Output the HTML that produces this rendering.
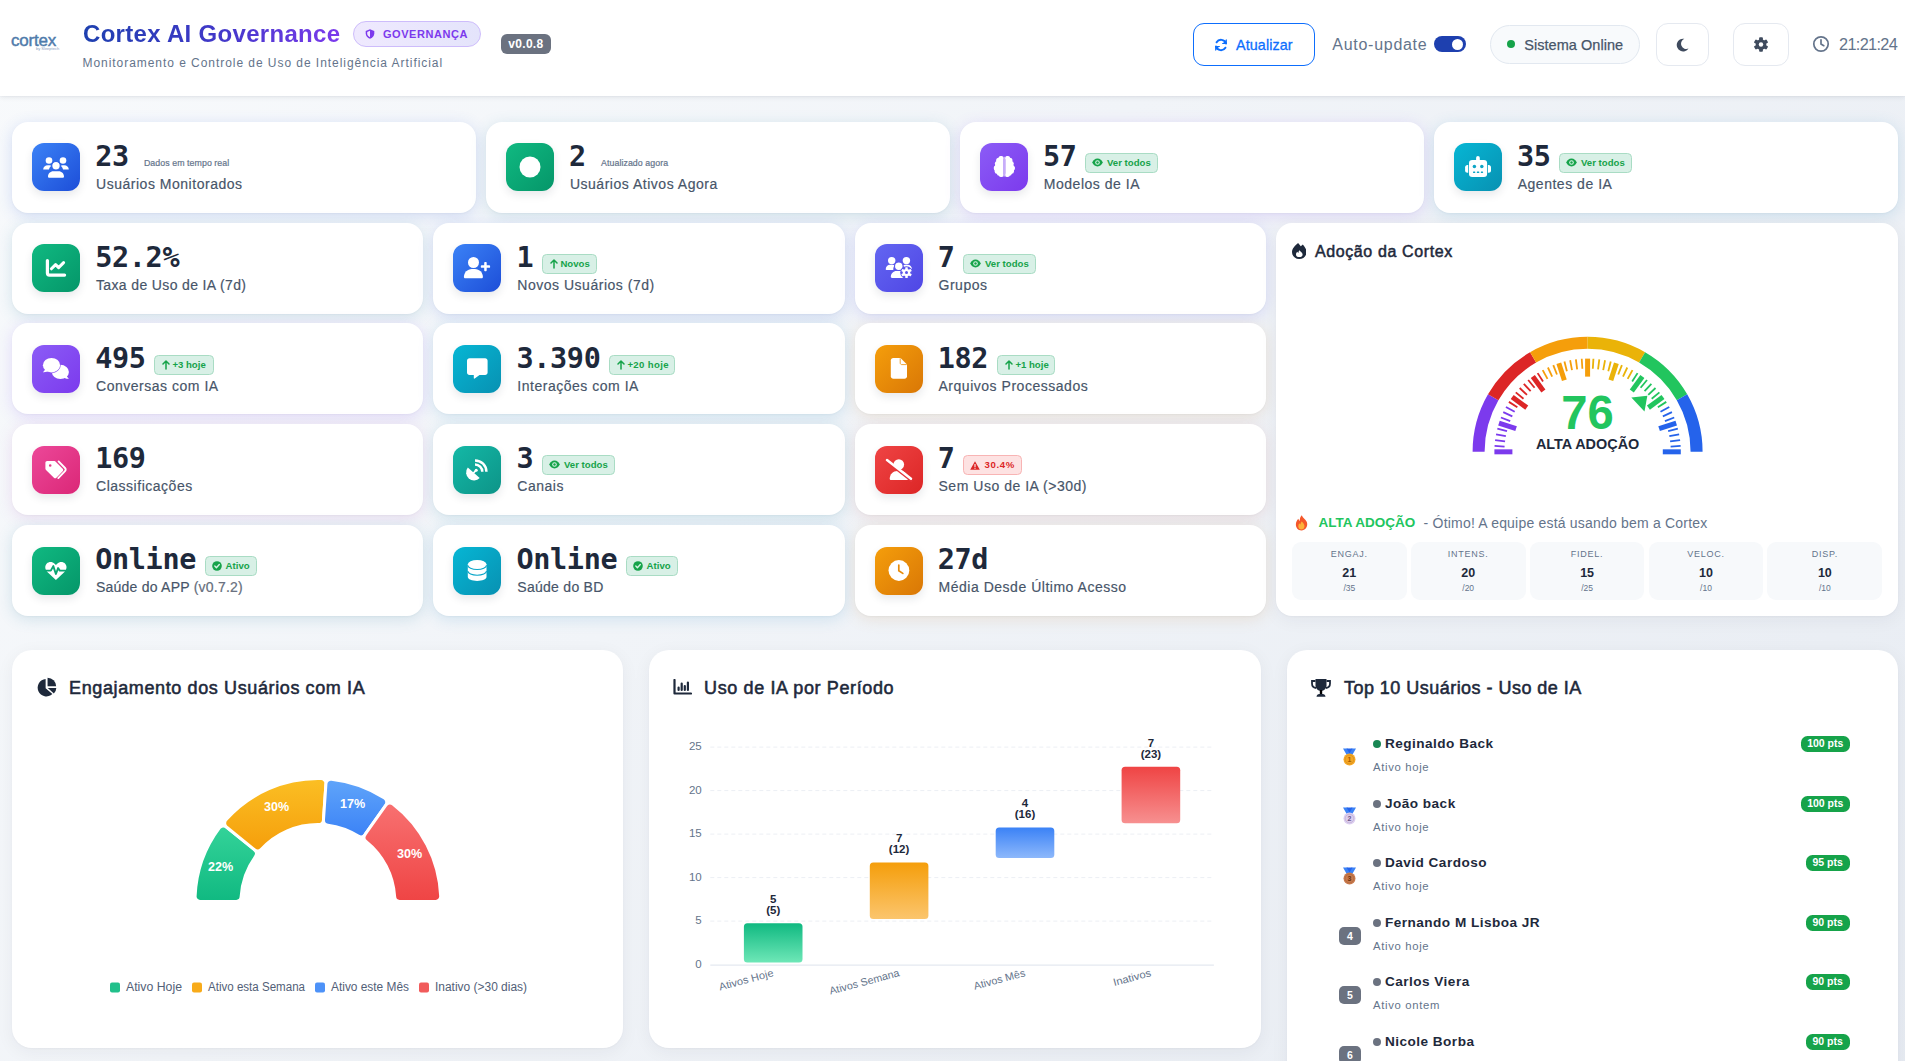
<!DOCTYPE html>
<html lang="pt-BR"><head><meta charset="utf-8"><title>Cortex AI Governance</title>
<style>
*{box-sizing:border-box;margin:0;padding:0}
html,body{width:1905px;height:1061px;overflow:hidden}
body{font-family:"Liberation Sans",sans-serif;color:#1e293b;background:linear-gradient(135deg,#f8fafc 0%,#e3e8f0 100%) no-repeat;background-size:1905px 1800px;position:relative}
.abs{position:absolute}
.mono{font-family:"DejaVu Sans Mono","Liberation Mono",monospace;font-weight:bold}
#hdr{position:absolute;left:0;top:0;width:1905px;height:96px;background:#fff;box-shadow:0 1px 5px rgba(30,41,59,.10),0 0 1px rgba(30,41,59,.10)}
.t{position:absolute;white-space:nowrap;line-height:1}
.card{position:absolute;background:#fff;border-radius:16px;box-shadow:0 4px 14px rgba(99,102,170,.13),0 1px 3px rgba(30,41,59,.05)}
.ico{position:absolute;left:20px;width:48px;height:48px;border-radius:12px;box-shadow:0 4px 8px rgba(30,41,59,.10)}
.ico svg{position:absolute;left:0;top:0;width:48px;height:48px}
.num{position:absolute;left:84px;font-size:28.5px;line-height:1;color:#1e293b;white-space:nowrap;letter-spacing:-.36px}
.lbl{position:absolute;left:84px;font-size:14px;line-height:1;color:#475569;white-space:nowrap;letter-spacing:.52px;-webkit-text-stroke:.18px #475569}
.bdg{position:absolute;height:20px;border-radius:4.5px;font-size:9.6px;font-weight:bold;line-height:18px;white-space:nowrap;border:1px solid #a9dcc4;background:#d8f0e6;color:#16a34a;letter-spacing:0}
.bdg.red{border-color:#f8b4b4;background:#fde2e2;color:#dc2626}

.panel{position:absolute;background:#fff;border-radius:20px;box-shadow:0 4px 18px rgba(30,41,59,.055),0 1px 2px rgba(30,41,59,.03)}
.ptitle{position:absolute;font-size:18px;font-weight:normal;-webkit-text-stroke:.55px #1e293b;color:#1e293b;white-space:nowrap;line-height:1;letter-spacing:.62px}
</style></head>
<body>

<div id="hdr">
  <div class="t" id="logo" style="left:11px;top:31.500px;font-size:17px;color:#4f7bab;letter-spacing:-.2px;-webkit-text-stroke:.45px #4f7bab">cortex</div>
  <div class="t" style="left:36px;top:47px;font-size:4px;color:#8aa0c0">by Sleeptech</div>
  <div class="t" id="title" style="left:82.500px;top:20.800px;font-size:23.300px;letter-spacing:.3px;transform:scaleX(1.03);transform-origin:0 0;font-weight:bold;background:linear-gradient(90deg,#1e40af 0%,#4338ca 55%,#7c3aed 100%);-webkit-background-clip:text;background-clip:text;color:transparent;line-height:26px">Cortex AI Governance</div>
  <div class="abs" style="left:353px;top:21px;width:128px;height:26px;border-radius:13px;background:linear-gradient(90deg,#efe9fe,#e4e4fb);border:1px solid #cdbcfb"></div>
  <svg class="abs" style="left:365px;top:29px" width="10" height="10" viewBox="0 0 10 10"><path d="M5 .3 9.3 2v2.6C9.3 7 7.4 9 5 9.8 2.6 9 .7 7 .7 4.600V2z" fill="#7c3aed"/><path d="M5 1.8v6.500C3.400 7.600 2.200 6.200 2.200 4.600V2.900z" fill="#efe9fe"/></svg>
  <div class="t" id="gov" style="left:383px;top:28.500px;font-size:11px;font-weight:bold;color:#7c3aed;letter-spacing:.55px">GOVERNANÇA</div>
  <div class="abs" style="left:501px;top:34px;width:50px;height:20px;border-radius:6px;background:#6b7280"></div>
  <div class="t" id="ver" style="left:508.300px;top:38.300px;font-size:12px;font-weight:bold;color:#fff;letter-spacing:.3px">v0.0.8</div>
  <div class="t" id="sub" style="left:82.500px;top:56.500px;font-size:12px;color:#64748b;letter-spacing:.95px">Monitoramento e Controle de Uso de Inteligência Artificial</div>

  <div class="abs" style="left:1193px;top:23px;width:122px;height:43px;border-radius:11px;border:1px solid #0d6efd;background:#fff"></div>
  <svg class="abs" style="left:1214px;top:38px" width="14" height="14" viewBox="0 0 14 14" fill="none" stroke="#0d6efd" stroke-width="2" stroke-linecap="round" stroke-linejoin="round"><path d="M12 5.500A5.200 5.200 0 0 0 2.600 4.300"/><path d="M2 8.500A5.200 5.200 0 0 0 11.400 9.700"/><path d="M12.300 1.800v3.700H8.600" fill="#0d6efd" stroke-width="1"/><path d="M1.700 12.200V8.500h3.700" fill="#0d6efd" stroke-width="1"/></svg>
  <div class="t" id="atu" style="left:1236px;top:37.500px;font-size:14.300px;color:#0d6efd;letter-spacing:.12px;-webkit-text-stroke:.3px #0d6efd">Atualizar</div>
  <div class="t" id="auto" style="left:1332.300px;top:36.500px;font-size:16px;color:#64748b;letter-spacing:.72px">Auto-update</div>
  <div class="abs" style="left:1434px;top:36px;width:32px;height:16px;border-radius:8px;background:#1e40af"></div>
  <div class="abs" style="left:1452px;top:38.500px;width:11px;height:11px;border-radius:6px;background:#fff"></div>
  <div class="abs" style="left:1490px;top:25px;width:150px;height:39px;border-radius:20px;border:1px solid #e2e8f0;background:#f8fafc"></div>
  <div class="abs" style="left:1507px;top:40px;width:8px;height:8px;border-radius:4px;background:#16a34a"></div>
  <div class="t" id="sis" style="left:1524.200px;top:37.800px;font-size:14.500px;color:#475569;letter-spacing:.05px;-webkit-text-stroke:.25px #475569">Sistema Online</div>
  <div class="abs" style="left:1656px;top:23px;width:53px;height:43px;border-radius:12px;border:1px solid #e5e9f0;background:#fff"></div>
  <svg class="abs" style="left:1676px;top:38px" width="13" height="14" viewBox="0 0 13 14"><path d="M8.300.8A6.400 6.400 0 1 0 12.500 10.600 5.100 5.100 0 0 1 8.300.8z" fill="#3f4b5e"/></svg>
  <div class="abs" style="left:1733px;top:23px;width:56px;height:43px;border-radius:12px;border:1px solid #e5e9f0;background:#fff"></div>
  <svg class="abs" style="left:1754px;top:37px" width="14" height="15" viewBox="-7 -7.500 14 15"><g fill="#3f4b5e"><circle r="5.300"/><g id="tt"><rect x="-1.900" y="-7.200" width="3.800" height="14.400" rx=".9"/></g><use href="#tt" transform="rotate(60)"/><use href="#tt" transform="rotate(120)"/></g><circle r="2.200" fill="#fff"/></svg>
  <svg class="abs" style="left:1812px;top:35px" width="18" height="18" viewBox="0 0 18 18" fill="none" stroke="#64748b" stroke-width="1.700" stroke-linecap="round"><circle cx="9" cy="9" r="7.200"/><path d="M9 4.800V9l2.800 1.700"/></svg>
  <div class="t" id="clk" style="left:1839px;top:36.300px;font-size:16.300px;color:#64748b;letter-spacing:-.65px">21:21:24</div>
</div>
<div class="card" style="left:12px;top:122px;width:464px;height:91px;box-shadow:0 3px 15px rgba(59,100,220,.19),0 1px 2px rgba(30,41,59,.04)">
<div class="ico" style="left:20px;top:21px;background:linear-gradient(135deg,#3b82f6,#1d4ed8)"><svg viewBox="0 0 48 48"><g fill="#fff"><circle cx="17" cy="17.500" r="3.300"/><circle cx="31" cy="17.500" r="3.300"/><path d="M11.200 26.500c0-2.600 2-4.200 4.600-4.200h1.600c.8 0 1.500.2 2.100.5-1.500 1-2.300 2.400-2.500 3.700z"/><path d="M36.800 26.500c0-2.600-2-4.200-4.600-4.200h-1.600c-.8 0-1.500.2-2.100.5 1.500 1 2.300 2.400 2.500 3.700z"/><circle cx="24" cy="22.800" r="4.300" stroke="#2f62e6" stroke-width="1.200"/><path d="M16 33.500c0-3 2.400-5.300 5.300-5.300h5.400c2.900 0 5.300 2.300 5.300 5.300 0 .8-.6 1.300-1.300 1.300H17.300c-.7 0-1.300-.5-1.300-1.300z"/></g></svg></div>
<div class="num mono" id="num0" style="left:83.20px;top:21.43px">23</div>
<div class="lbl" id="lbl0" style="left:84.00px;top:55.43px">Usuários Monitorados</div>
<div class="t" id="sm0" style="left:131.9px;top:36.7px;font-size:8.800px;color:#64748b;letter-spacing:.07px;-webkit-text-stroke:.2px #64748b">Dados em tempo real</div>
</div>
<div class="card" style="left:486px;top:122px;width:464px;height:91px;box-shadow:0 3px 15px rgba(60,140,170,.19),0 1px 2px rgba(30,41,59,.04)">
<div class="ico" style="left:20px;top:21px;background:linear-gradient(135deg,#10b981,#059669)"><svg viewBox="0 0 48 48"><circle cx="24" cy="24" r="10.500" fill="#fff"/></svg></div>
<div class="num mono" id="num1" style="left:83.10px;top:21.43px">2</div>
<div class="lbl" id="lbl1" style="left:83.90px;top:55.43px">Usuários Ativos Agora</div>
<div class="t" id="sm1" style="left:115.0px;top:36.7px;font-size:8.800px;color:#64748b;letter-spacing:.07px;-webkit-text-stroke:.2px #64748b">Atualizado agora</div>
</div>
<div class="card" style="left:960px;top:122px;width:464px;height:91px;box-shadow:0 3px 15px rgba(139,92,246,.19),0 1px 2px rgba(30,41,59,.04)">
<div class="ico" style="left:20px;top:21px;background:linear-gradient(135deg,#8b5cf6,#7c3aed)"><svg viewBox="0 0 48 48"><g fill="#fff" transform="translate(.55 0)"><path d="M22.60 13.70L20.60 13.00L18.10 14.80L16.70 17.60L15.00 19.90L14.70 22.10L13.30 25.00L14.10 27.80L15.50 29.50L16.70 31.20L18.70 32.30L20.60 34.00L22.60 33.50z"/><circle cx="20.30" cy="15.3" r="2.3"/><circle cx="18.20" cy="17.4" r="2.6"/><circle cx="16.60" cy="20.6" r="2.3"/><circle cx="15.70" cy="24.9" r="2.5"/><circle cx="16.50" cy="28.4" r="2.4"/><circle cx="18.60" cy="30.6" r="2.2"/><circle cx="20.40" cy="31.8" r="2.2"/><path d="M24.90 13.70L26.90 13.00L29.40 14.80L30.80 17.60L32.50 19.90L32.80 22.10L34.20 25.00L33.40 27.80L32.00 29.50L30.80 31.20L28.80 32.30L26.90 34.00L24.90 33.50z"/><circle cx="27.20" cy="15.3" r="2.3"/><circle cx="29.30" cy="17.4" r="2.6"/><circle cx="30.90" cy="20.6" r="2.3"/><circle cx="31.80" cy="24.9" r="2.5"/><circle cx="31.00" cy="28.4" r="2.4"/><circle cx="28.90" cy="30.6" r="2.2"/><circle cx="27.10" cy="31.8" r="2.2"/><rect x="22.6" y="13.8" width="2.3" height="19.7" opacity=".55"/></g></svg></div>
<div class="num mono" id="num2" style="left:83.00px;top:21.43px">57</div>
<div class="lbl" id="lbl2" style="left:83.80px;top:55.43px">Modelos de IA</div>
<div class="bdg " style="left:125.0px;top:31px;width:73px"><svg style="position:absolute;left:6px;top:4.4px" width="11" height="9" viewBox="0 0 11 9"><path d="M5.500.6C3 .6 1.100 2.300.3 4.500 1.100 6.700 3 8.400 5.500 8.400S9.900 6.700 10.700 4.500C9.900 2.300 8 .6 5.500.6z" fill="#16a34a"/><circle cx="5.500" cy="4.500" r="2.300" fill="#d5f2e4"/><circle cx="5.500" cy="4.500" r="1.200" fill="#16a34a"/></svg><span id="bt0" style="position:absolute;left:21px;top:0">Ver todos</span></div>
</div>
<div class="card" style="left:1434px;top:122px;width:464px;height:91px;box-shadow:0 3px 15px rgba(56,150,200,.19),0 1px 2px rgba(30,41,59,.04)">
<div class="ico" style="left:20px;top:21px;background:linear-gradient(135deg,#06b6d4,#0891b2)"><svg viewBox="0 0 48 48"><g fill="#fff"><rect x="22.1" y="13.1" width="3.7" height="6" rx="1.85"/><rect x="15" y="17.1" width="18.1" height="16.9" rx="3.2"/><path d="M14.200 22v7.800h-.8c-1.300 0-2.300-1-2.300-2.300v-3.200c0-1.300 1-2.300 2.300-2.300z"/><path d="M33.900 22v7.800h.8c1.300 0 2.300-1 2.300-2.300v-3.200c0-1.300-1-2.300-2.300-2.300z"/></g><g fill="#0ea5c6"><circle cx="20.400" cy="23.400" r="1.750"/><circle cx="27.800" cy="23.400" r="1.750"/><rect x="19" y="28.600" width="2.300" height="1.400" rx=".4"/><rect x="22.800" y="28.600" width="2.500" height="1.400" rx=".4"/><rect x="26.800" y="28.600" width="2.300" height="1.400" rx=".4"/></g></svg></div>
<div class="num mono" id="num3" style="left:82.90px;top:21.43px">35</div>
<div class="lbl" id="lbl3" style="left:83.70px;top:55.43px">Agentes de IA</div>
<div class="bdg " style="left:125.0px;top:31px;width:73px"><svg style="position:absolute;left:6px;top:4.4px" width="11" height="9" viewBox="0 0 11 9"><path d="M5.500.6C3 .6 1.100 2.300.3 4.500 1.100 6.700 3 8.400 5.500 8.400S9.900 6.700 10.700 4.500C9.900 2.300 8 .6 5.500.6z" fill="#16a34a"/><circle cx="5.500" cy="4.500" r="2.300" fill="#d5f2e4"/><circle cx="5.500" cy="4.500" r="1.200" fill="#16a34a"/></svg><span id="bt1" style="position:absolute;left:21px;top:0">Ver todos</span></div>
</div>
<div class="card" style="left:12px;top:223px;width:411px;height:91px;box-shadow:0 3px 15px rgba(60,140,170,.19),0 1px 2px rgba(30,41,59,.04)">
<div class="ico" style="left:20px;top:21px;background:linear-gradient(135deg,#10b981,#059669)"><svg viewBox="0 0 48 48"><g fill="none" stroke="#fff" stroke-width="3.200" stroke-linecap="round" stroke-linejoin="round"><path d="M15.400 16.500v12.600c0 1.200.8 2 2 2H32.600"/><path d="M19.400 24.800l4.200-4.200 3 3 5-5" stroke-width="3"/></g></svg></div>
<div class="num mono" id="num4" style="left:83.20px;top:21.10px">52.2%</div>
<div class="lbl" id="lbl4" style="left:84.00px;top:55.10px;letter-spacing:0.36px">Taxa de Uso de IA (7d)</div>
</div>
<div class="card" style="left:433px;top:223px;width:412px;height:91px;box-shadow:0 3px 15px rgba(59,100,220,.19),0 1px 2px rgba(30,41,59,.04)">
<div class="ico" style="left:20px;top:21px;background:linear-gradient(135deg,#3b82f6,#1d4ed8)"><svg viewBox="0 0 48 48"><g fill="#fff"><circle cx="20.500" cy="18.500" r="5.500"/><path d="M10.900 33c0-4.500 3.500-8.100 8-8.100h3c4.500 0 8 3.600 8 8.100 0 .7-.6 1.300-1.300 1.300H12.200c-.7 0-1.300-.6-1.300-1.300z"/><rect x="31.200" y="17.900" width="2.500" height="9.300" rx=".9"/><rect x="27.800" y="21.300" width="9.300" height="2.500" rx=".9"/></g></svg></div>
<div class="num mono" id="num5" style="left:83.47px;top:21.10px">1</div>
<div class="lbl" id="lbl5" style="left:84.27px;top:55.10px">Novos Usuários (7d)</div>
<div class="bdg " style="left:109.0px;top:31px;width:55px"><svg style="position:absolute;left:6.6px;top:4px" width="8" height="10" viewBox="0 0 8 10" fill="none" stroke="#16a34a" stroke-width="1.500" stroke-linecap="round" stroke-linejoin="round"><path d="M4 9V1.200M1 4l3-3 3 3"/></svg><span id="bt2" style="position:absolute;left:17.4px;top:0">Novos</span></div>
</div>
<div class="card" style="left:855px;top:223px;width:411px;height:91px;box-shadow:0 3px 15px rgba(99,102,241,.19),0 1px 2px rgba(30,41,59,.04)">
<div class="ico" style="left:20px;top:21px;background:linear-gradient(135deg,#6366f1,#4f46e5)"><svg viewBox="0 0 48 48"><g fill="#fff"><circle cx="16.700" cy="16.600" r="3.700"/><circle cx="31.400" cy="16.600" r="3.700"/><path d="M10.700 25.200c0-2.500 2-4.400 4.500-4.400h2.500c.7 0 1.400.2 2 .5-1 1.200-1.500 2.700-1.400 4.700h-6.800c-.5 0-.8-.4-.8-.8z"/><path d="M37 25.200c0-2.500-2-4.400-4.500-4.400H30c-.7 0-1.400.2-2 .5.900 1 1.400 2.200 1.500 3.700h7.100c.3 0 .4-.1.400.2z"/><circle cx="23.800" cy="22.300" r="4.300" stroke="#5a55ea" stroke-width="1.100"/><path d="M15.800 32.800c0-3.200 2.600-5.700 5.700-5.700h4.500c1.200 0 2.200.3 3.100.9v5.900H17c-.7 0-1.200-.5-1.200-1.100z"/><g transform="translate(31.500 28.600)"><circle r="6.300" fill="#5a55ea"/><circle r="3.700"/><g id="cg"><rect x="-1.250" y="-5.400" width="2.500" height="10.800" rx=".5"/></g><use href="#cg" transform="rotate(60)"/><use href="#cg" transform="rotate(120)"/><circle r="1.500" fill="#5a55ea"/></g></g></svg></div>
<div class="num mono" id="num6" style="left:82.73px;top:21.10px">7</div>
<div class="lbl" id="lbl6" style="left:83.53px;top:55.10px">Grupos</div>
<div class="bdg " style="left:108.0px;top:31px;width:73px"><svg style="position:absolute;left:6px;top:4.4px" width="11" height="9" viewBox="0 0 11 9"><path d="M5.500.6C3 .6 1.100 2.300.3 4.500 1.100 6.700 3 8.400 5.500 8.400S9.900 6.700 10.700 4.500C9.900 2.300 8 .6 5.500.6z" fill="#16a34a"/><circle cx="5.500" cy="4.500" r="2.300" fill="#d5f2e4"/><circle cx="5.500" cy="4.500" r="1.200" fill="#16a34a"/></svg><span id="bt3" style="position:absolute;left:21px;top:0">Ver todos</span></div>
</div>
<div class="card" style="left:12px;top:323px;width:411px;height:91px;box-shadow:0 3px 15px rgba(139,92,246,.19),0 1px 2px rgba(30,41,59,.04)">
<div class="ico" style="left:20px;top:22px;background:linear-gradient(135deg,#8b5cf6,#7c3aed)"><svg viewBox="0 0 48 48"><g fill="#fff"><ellipse cx="28.400" cy="26.900" rx="8.500" ry="7.100"/><path d="M30.500 32.500c1.800.3 4 1.600 6.400 1.300-1.400-1.200-2.300-2.700-2.500-4.800z"/><g stroke="#8950f2" stroke-width="1.300" paint-order="stroke"><ellipse cx="19.500" cy="20.200" rx="8.600" ry="7.200"/></g><path d="M17.500 26c-1.800.3-4.200 1.500-6.600 1.200 1.400-1.200 2.300-2.700 2.500-4.800z"/></g></svg></div>
<div class="num mono" id="num7" style="left:83.20px;top:21.77px">495</div>
<div class="lbl" id="lbl7" style="left:84.00px;top:55.77px">Conversas com IA</div>
<div class="bdg " style="left:142.0px;top:32px;width:60px"><svg style="position:absolute;left:6.6px;top:4px" width="8" height="10" viewBox="0 0 8 10" fill="none" stroke="#16a34a" stroke-width="1.500" stroke-linecap="round" stroke-linejoin="round"><path d="M4 9V1.200M1 4l3-3 3 3"/></svg><span id="bt4" style="position:absolute;left:17.4px;top:0">+3 hoje</span></div>
</div>
<div class="card" style="left:433px;top:323px;width:412px;height:91px;box-shadow:0 3px 15px rgba(56,150,200,.19),0 1px 2px rgba(30,41,59,.04)">
<div class="ico" style="left:20px;top:22px;background:linear-gradient(135deg,#06b6d4,#0891b2)"><svg viewBox="0 0 48 48"><path d="M16.500 13.300h15.600c1.400 0 2.500 1.100 2.500 2.500v11.700c0 1.400-1.100 2.500-2.500 2.500h-5.600l-4.800 3.600c-.4.300-.9 0-.9-.4V30h-4.300c-1.400 0-2.500-1.100-2.500-2.500V15.800c0-1.400 1.100-2.500 2.500-2.500z" fill="#fff"/></svg></div>
<div class="num mono" id="num8" style="left:83.47px;top:21.77px">3.390</div>
<div class="lbl" id="lbl8" style="left:84.27px;top:55.77px">Interações com IA</div>
<div class="bdg " style="left:176.0px;top:32px;width:66px"><svg style="position:absolute;left:6.6px;top:4px" width="8" height="10" viewBox="0 0 8 10" fill="none" stroke="#16a34a" stroke-width="1.500" stroke-linecap="round" stroke-linejoin="round"><path d="M4 9V1.200M1 4l3-3 3 3"/></svg><span id="bt5" style="position:absolute;left:17.4px;top:0;letter-spacing:.35px">+20 hoje</span></div>
</div>
<div class="card" style="left:855px;top:323px;width:411px;height:91px;box-shadow:0 3px 15px rgba(200,150,90,.19),0 1px 2px rgba(30,41,59,.04)">
<div class="ico" style="left:20px;top:22px;background:linear-gradient(135deg,#f59e0b,#d97706)"><svg viewBox="0 0 48 48"><path d="M18.300 13.100h7.200l6.500 6.300v11.900c0 1.400-1.100 2.500-2.500 2.500H18.300c-1.400 0-2.500-1.100-2.500-2.500V15.600c0-1.400 1.100-2.500 2.500-2.500z" fill="#fff"/><path d="M25.200 13.300v4.700c0 .9.700 1.600 1.600 1.600h4.900" fill="none" stroke="#ee9a1e" stroke-width=".9"/></svg></div>
<div class="num mono" id="num9" style="left:82.73px;top:21.77px">182</div>
<div class="lbl" id="lbl9" style="left:83.53px;top:55.77px">Arquivos Processados</div>
<div class="bdg " style="left:142.0px;top:32px;width:58px"><svg style="position:absolute;left:6.6px;top:4px" width="8" height="10" viewBox="0 0 8 10" fill="none" stroke="#16a34a" stroke-width="1.500" stroke-linecap="round" stroke-linejoin="round"><path d="M4 9V1.200M1 4l3-3 3 3"/></svg><span id="bt6" style="position:absolute;left:17.4px;top:0">+1 hoje</span></div>
</div>
<div class="card" style="left:12px;top:424px;width:411px;height:91px;box-shadow:0 3px 15px rgba(190,110,200,.19),0 1px 2px rgba(30,41,59,.04)">
<div class="ico" style="left:20px;top:22px;background:linear-gradient(135deg,#ec4899,#db2777)"><svg viewBox="0 0 48 48"><g transform="translate(0 .6)"><g fill="#fff"><path d="M13.400 16.200c0-.9.800-1.700 1.700-1.700h7.300c.5 0 1 .2 1.300.6l7 7.100c.7.700.7 1.800 0 2.500l-6.300 6.500c-.7.700-1.800.7-2.500 0l-7.900-7.900c-.4-.4-.6-.8-.6-1.300zM18.200 20.200a1.300 1.300 0 1 0 0-2.600 1.300 1.300 0 0 0 0 2.600z" fill-rule="evenodd"/></g><path d="M26.600 14.800l6.400 6.600c.9.900.9 2.200 0 3.100l-6.700 7" fill="none" stroke="#fff" stroke-width="1.900" stroke-linecap="round" stroke-linejoin="round"/></g></svg></div>
<div class="num mono" id="num10" style="left:83.20px;top:21.44px">169</div>
<div class="lbl" id="lbl10" style="left:84.00px;top:55.44px">Classificações</div>
</div>
<div class="card" style="left:433px;top:424px;width:412px;height:91px;box-shadow:0 3px 15px rgba(60,150,180,.19),0 1px 2px rgba(30,41,59,.04)">
<div class="ico" style="left:20px;top:22px;background:linear-gradient(135deg,#14b8a6,#0d9488)"><svg viewBox="0 0 48 48"><g fill="#fff"><path d="M14.800 21.600A7.950 7.950 0 0 0 26.700 32.100z"/><circle cx="23.200" cy="24.200" r="1.500"/></g><path d="M20.500 27l2.700-2.800" stroke="#fff" stroke-width="1.800" stroke-linecap="round"/><g fill="none" stroke="#fff" stroke-width="2.500"><path d="M22 18.500a7.300 7.300 0 0 1 7.300 7.300"/><path d="M22 14.400a11.400 11.400 0 0 1 11.400 11.400"/></g></svg></div>
<div class="num mono" id="num11" style="left:83.47px;top:21.44px">3</div>
<div class="lbl" id="lbl11" style="left:84.27px;top:55.44px">Canais</div>
<div class="bdg " style="left:109.0px;top:31px;width:73px"><svg style="position:absolute;left:6px;top:4.4px" width="11" height="9" viewBox="0 0 11 9"><path d="M5.500.6C3 .6 1.100 2.300.3 4.500 1.100 6.700 3 8.400 5.500 8.400S9.900 6.700 10.700 4.500C9.900 2.300 8 .6 5.500.6z" fill="#16a34a"/><circle cx="5.500" cy="4.500" r="2.300" fill="#d5f2e4"/><circle cx="5.500" cy="4.500" r="1.200" fill="#16a34a"/></svg><span id="bt7" style="position:absolute;left:21px;top:0">Ver todos</span></div>
</div>
<div class="card" style="left:855px;top:424px;width:411px;height:91px;box-shadow:0 3px 15px rgba(200,120,120,.19),0 1px 2px rgba(30,41,59,.04)">
<div class="ico" style="left:20px;top:22px;background:linear-gradient(135deg,#ef4444,#dc2626)"><svg viewBox="0 0 48 48"><g fill="#fff"><circle cx="23.800" cy="18.600" r="5.300"/><path d="M14.700 32.800c0-4.300 3.400-7.700 7.700-7.700h3c4.300 0 7.700 3.400 7.700 7.700 0 .7-.6 1.300-1.300 1.300H16c-.7 0-1.300-.6-1.300-1.300z"/></g><path d="M12.400 15.900l23.800 18.600" stroke="#e5353a" stroke-width="2.600" stroke-linecap="round"/><path d="M12 14.100l24 18.700" stroke="#fff" stroke-width="2.500" stroke-linecap="round"/></svg></div>
<div class="num mono" id="num12" style="left:82.73px;top:21.44px">7</div>
<div class="lbl" id="lbl12" style="left:83.53px;top:55.44px">Sem Uso de IA (&gt;30d)</div>
<div class="bdg red" style="left:108.0px;top:31px;width:59px"><svg style="position:absolute;left:6.4px;top:4.6px" width="10" height="9" viewBox="0 0 10 9"><path d="M5 .3 9.800 8.700H.2z" fill="#dc2626"/><rect x="4.400" y="3" width="1.200" height="3" fill="#fde0e0"/><rect x="4.400" y="6.700" width="1.200" height="1.100" fill="#fde0e0"/></svg><span id="bt8" style="position:absolute;left:20.4px;top:0;letter-spacing:.7px">30.4%</span></div>
</div>
<div class="card" style="left:12px;top:525px;width:411px;height:91px;box-shadow:0 3px 15px rgba(60,140,170,.19),0 1px 2px rgba(30,41,59,.04)">
<div class="ico" style="left:20px;top:22px;background:linear-gradient(135deg,#10b981,#059669)"><svg viewBox="0 0 48 48"><path d="M23.900 33l-8.300-7.800c-2.900-2.700-3-6.400-.8-8.600 2.200-2.200 5.600-2 7.800.2l1.300 1.300 1.300-1.300c2.200-2.200 5.600-2.400 7.800-.2 2.200 2.200 2.100 5.900-.8 8.600z" fill="#fff"/><path d="M12.500 23.600h6.300l2.500-4.500 2.600 7.900 2.200-5.900 1.700 2.500h7.500" fill="none" stroke="#0aa673" stroke-width="1.900" stroke-linejoin="round"/></svg></div>
<div class="num mono" id="num13" style="left:83.20px;top:21.11px">Online</div>
<div class="lbl" id="lbl13" style="left:84.00px;top:55.11px;letter-spacing:0.225px">Saúde do APP <span style="color:#6b7280">(v0.7.2)</span></div>
<div class="bdg " style="left:193.0px;top:31px;width:52px"><svg style="position:absolute;left:5.6px;top:4px" width="10" height="10" viewBox="0 0 10 10"><circle cx="5" cy="5" r="4.800" fill="#16a34a"/><path d="M2.800 5.100l1.600 1.600 2.900-3.100" fill="none" stroke="#d5f2e4" stroke-width="1.400" stroke-linecap="round" stroke-linejoin="round"/></svg><span id="bt9" style="position:absolute;left:19.6px;top:0">Ativo</span></div>
</div>
<div class="card" style="left:433px;top:525px;width:412px;height:91px;box-shadow:0 3px 15px rgba(56,150,200,.19),0 1px 2px rgba(30,41,59,.04)">
<div class="ico" style="left:20px;top:22px;background:linear-gradient(135deg,#06b6d4,#0891b2)"><svg viewBox="0 0 48 48"><g fill="#fff"><path d="M14.800 17.500h18.700v12.600c0 2.100-4.200 3.800-9.350 3.800s-9.350-1.700-9.350-3.800z"/><ellipse cx="24.150" cy="17.400" rx="9.350" ry="4.300"/></g><g fill="none" stroke="#08a5c8" stroke-width="1.100"><path d="M14.800 18.200c0 2.400 4.200 4.300 9.350 4.300s9.350-1.900 9.350-4.300"/><path d="M14.800 24.100c0 2.300 4.200 4.100 9.350 4.100s9.350-1.800 9.350-4.100"/></g></svg></div>
<div class="num mono" id="num14" style="left:83.47px;top:21.11px">Online</div>
<div class="lbl" id="lbl14" style="left:84.27px;top:55.11px;letter-spacing:0.28px">Saúde do BD</div>
<div class="bdg " style="left:193.0px;top:31px;width:52px"><svg style="position:absolute;left:5.6px;top:4px" width="10" height="10" viewBox="0 0 10 10"><circle cx="5" cy="5" r="4.800" fill="#16a34a"/><path d="M2.800 5.100l1.600 1.600 2.900-3.100" fill="none" stroke="#d5f2e4" stroke-width="1.400" stroke-linecap="round" stroke-linejoin="round"/></svg><span id="bt10" style="position:absolute;left:19.6px;top:0">Ativo</span></div>
</div>
<div class="card" style="left:855px;top:525px;width:411px;height:91px;box-shadow:0 3px 15px rgba(200,150,90,.19),0 1px 2px rgba(30,41,59,.04)">
<div class="ico" style="left:20px;top:22px;background:linear-gradient(135deg,#f59e0b,#d97706)"><svg viewBox="0 0 48 48"><circle cx="23.900" cy="23.500" r="10.400" fill="#fff"/><path d="M23.800 18v5.700l4 2.700" fill="none" stroke="#e78b09" stroke-width="1.700" stroke-linecap="round"/></svg></div>
<div class="num mono" id="num15" style="left:82.73px;top:21.11px">27d</div>
<div class="lbl" id="lbl15" style="left:83.53px;top:55.11px">Média Desde Último Acesso</div>
</div>
<div class="panel" id="gpanel" style="left:1275.6px;top:222.67px;width:622.4px;height:393.06px;border-radius:16px">
<svg class="abs" style="left:16.200px;top:20.100px" width="14.500" height="16" viewBox="0 0 14.500 16"><path d="M6.100 0C7.300 1.300 8 2.200 8.700 3.200 9.400 2.600 10 2 10.800 1.400 13 4 14.500 6.200 14.500 9c0 4-3.200 7-7.300 7S0 13 0 9C0 5.500 3 2.500 6.100 0z" fill="#1e293b"/><path d="M7.300 7.200c1.200 1.300 3.300 2.400 3.300 4.200 0 1.700-1.400 2.700-3.300 2.700S4 13.100 4 11.400c0-1.100.6-1.900 1.300-2.600.3.600.7.900 1.100 1.100.1-.9.400-1.900.9-2.700z" fill="#fff"/></svg>
<div class="t" id="gtitle" style="left:39.300px;top:21px;font-size:16px;font-weight:normal;-webkit-text-stroke:.5px #1e293b;color:#1e293b;letter-spacing:.62px">Adoção da Cortex</div>
<svg class="abs" style="left:0;top:0" width="622.4" height="393.06" viewBox="0 0 622.4 393.06"><path d="M202.60 228.83A109.0 109.0 0 0 1 217.20 174.33" stroke="#7c3aed" stroke-width="12" fill="none"/><path d="M217.20 174.33A109.0 109.0 0 0 1 257.10 134.43" stroke="#dc2626" stroke-width="12" fill="none"/><path d="M257.10 134.43A109.0 109.0 0 0 1 311.60 119.83" stroke="#f59e0b" stroke-width="12" fill="none"/><path d="M311.60 119.83A109.0 109.0 0 0 1 366.10 134.43" stroke="#eab308" stroke-width="12" fill="none"/><path d="M366.10 134.43A109.0 109.0 0 0 1 406.00 174.33" stroke="#22c55e" stroke-width="12" fill="none"/><path d="M406.00 174.33A109.0 109.0 0 0 1 420.60 228.83" stroke="#2563eb" stroke-width="12" fill="none"/><path d="M218.40 228.83L236.40 228.83" stroke="#7c3aed" stroke-width="5"/><path d="M218.58 222.98L228.56 223.61" stroke="#7c3aed" stroke-width="1.8"/><path d="M219.13 217.15L229.06 218.40" stroke="#7c3aed" stroke-width="1.8"/><path d="M220.05 211.37L229.87 213.24" stroke="#7c3aed" stroke-width="1.8"/><path d="M221.33 205.65L231.01 208.14" stroke="#7c3aed" stroke-width="1.8"/><path d="M222.96 200.03L240.08 205.59" stroke="#7c3aed" stroke-width="5"/><path d="M224.94 194.52L234.24 198.20" stroke="#7c3aed" stroke-width="1.8"/><path d="M227.27 189.15L236.32 193.41" stroke="#7c3aed" stroke-width="1.8"/><path d="M229.93 183.93L238.69 188.75" stroke="#7c3aed" stroke-width="1.8"/><path d="M232.91 178.89L241.35 184.25" stroke="#dc2626" stroke-width="1.8"/><path d="M236.20 174.05L250.76 184.63" stroke="#dc2626" stroke-width="5"/><path d="M239.79 169.42L247.49 175.80" stroke="#dc2626" stroke-width="1.8"/><path d="M243.66 165.03L250.95 171.88" stroke="#dc2626" stroke-width="1.8"/><path d="M247.80 160.89L254.65 168.18" stroke="#dc2626" stroke-width="1.8"/><path d="M252.19 157.02L258.57 164.72" stroke="#dc2626" stroke-width="1.8"/><path d="M256.82 153.43L267.40 167.99" stroke="#dc2626" stroke-width="5"/><path d="M261.66 150.14L267.02 158.58" stroke="#dc2626" stroke-width="1.8"/><path d="M266.70 147.16L271.52 155.92" stroke="#f59e0b" stroke-width="1.8"/><path d="M271.92 144.50L276.18 153.55" stroke="#f59e0b" stroke-width="1.8"/><path d="M277.29 142.17L280.97 151.47" stroke="#f59e0b" stroke-width="1.8"/><path d="M282.80 140.19L288.36 157.31" stroke="#f59e0b" stroke-width="5"/><path d="M288.42 138.56L290.91 148.24" stroke="#f59e0b" stroke-width="1.8"/><path d="M294.14 137.28L296.01 147.10" stroke="#f59e0b" stroke-width="1.8"/><path d="M299.92 136.36L301.17 146.29" stroke="#f59e0b" stroke-width="1.8"/><path d="M305.75 135.81L306.38 145.79" stroke="#f59e0b" stroke-width="1.8"/><path d="M311.60 135.63L311.60 153.63" stroke="#f59e0b" stroke-width="5"/><path d="M317.45 135.81L316.82 145.79" stroke="#eab308" stroke-width="1.8"/><path d="M323.28 136.36L322.03 146.29" stroke="#eab308" stroke-width="1.8"/><path d="M329.06 137.28L327.19 147.10" stroke="#eab308" stroke-width="1.8"/><path d="M334.78 138.56L332.29 148.24" stroke="#eab308" stroke-width="1.8"/><path d="M340.40 140.19L334.84 157.31" stroke="#eab308" stroke-width="5"/><path d="M345.91 142.17L342.23 151.47" stroke="#eab308" stroke-width="1.8"/><path d="M351.28 144.50L347.02 153.55" stroke="#eab308" stroke-width="1.8"/><path d="M356.50 147.16L351.68 155.92" stroke="#eab308" stroke-width="1.8"/><path d="M361.54 150.14L356.18 158.58" stroke="#22c55e" stroke-width="1.8"/><path d="M366.38 153.43L355.80 167.99" stroke="#22c55e" stroke-width="5"/><path d="M371.01 157.02L364.63 164.72" stroke="#22c55e" stroke-width="1.8"/><path d="M375.40 160.89L368.55 168.18" stroke="#22c55e" stroke-width="1.8"/><path d="M379.54 165.03L372.25 171.88" stroke="#22c55e" stroke-width="1.8"/><path d="M383.41 169.42L375.71 175.80" stroke="#22c55e" stroke-width="1.8"/><path d="M387.00 174.05L372.44 184.63" stroke="#22c55e" stroke-width="5"/><path d="M390.29 178.89L381.85 184.25" stroke="#22c55e" stroke-width="1.8"/><path d="M393.27 183.93L384.51 188.75" stroke="#2563eb" stroke-width="1.8"/><path d="M395.93 189.15L386.88 193.41" stroke="#2563eb" stroke-width="1.8"/><path d="M398.26 194.52L388.96 198.20" stroke="#2563eb" stroke-width="1.8"/><path d="M400.24 200.03L383.12 205.59" stroke="#2563eb" stroke-width="5"/><path d="M401.87 205.65L392.19 208.14" stroke="#2563eb" stroke-width="1.8"/><path d="M403.15 211.37L393.33 213.24" stroke="#2563eb" stroke-width="1.8"/><path d="M404.07 217.15L394.14 218.40" stroke="#2563eb" stroke-width="1.8"/><path d="M404.62 222.98L394.64 223.61" stroke="#2563eb" stroke-width="1.8"/><path d="M404.80 228.83L386.80 228.83" stroke="#2563eb" stroke-width="5"/><path d="M371.38 172.70L355.37 174.59L368.48 188.55z" fill="#22c55e"/><text id="g76" x="311.6" y="206.0" text-anchor="middle" font-family="Liberation Sans, sans-serif" font-weight="bold" font-size="48" fill="#22c55e" textLength="52.500" lengthAdjust="spacingAndGlyphs">76</text><text id="galta" x="311.6" y="226.5" text-anchor="middle" font-family="Liberation Sans, sans-serif" font-weight="bold" font-size="14.500" fill="#1e293b" textLength="103.400" lengthAdjust="spacingAndGlyphs">ALTA ADOÇÃO</text></svg>
<svg class="abs" style="left:19px;top:292px" width="13" height="16" viewBox="0 0 13 16"><path d="M6.800.3C7.500 2.600 10.500 4.300 11.700 6.800c1.600 3.600-.6 8.600-5.200 8.600S-.2 10.600 1.400 6.700c.5-1.200 1.300-2.200 1.900-2.900.3 1 .7 1.700 1.400 2.200C4.800 3.900 5.200 1.700 6.800.3z" fill="#f4572a"/><path d="M6.600 6.500c1.700 1.500 2.900 2.900 2.900 4.700 0 2-1.400 3.300-3.100 3.300S3.300 13.200 3.300 11.200c0-1.100.5-2.100 1.200-2.900.2.600.500 1 .9 1.200.1-1 .5-2.100 1.200-3z" fill="#fdb13a"/></svg>
<div class="t" id="galta2" style="left:43px;top:293.300px;font-size:13.500px;font-weight:bold;color:#22c55e;letter-spacing:0">ALTA ADOÇÃO</div>
<div class="t" id="gmsg" style="left:148px;top:293px;font-size:14px;color:#64748b;letter-spacing:.2px">- Ótimo! A equipe está usando bem a Cortex</div>
<div class="abs" style="left:16.3px;top:319.300px;width:114.800px;height:57.700px;border-radius:9px;background:#f7f9fb;text-align:center"><div class="t" style="left:0;width:100%;top:8px;font-size:9px;color:#64748b;letter-spacing:.75px">ENGAJ.</div><div class="t" style="left:0;width:100%;top:25.200px;font-size:12.500px;font-weight:bold;color:#1e293b">21</div><div class="t" style="left:0;width:100%;top:42.500px;font-size:8.500px;color:#64748b">/35</div></div><div class="abs" style="left:135.2px;top:319.300px;width:114.800px;height:57.700px;border-radius:9px;background:#f7f9fb;text-align:center"><div class="t" style="left:0;width:100%;top:8px;font-size:9px;color:#64748b;letter-spacing:.75px">INTENS.</div><div class="t" style="left:0;width:100%;top:25.200px;font-size:12.500px;font-weight:bold;color:#1e293b">20</div><div class="t" style="left:0;width:100%;top:42.500px;font-size:8.500px;color:#64748b">/20</div></div><div class="abs" style="left:254.1px;top:319.300px;width:114.800px;height:57.700px;border-radius:9px;background:#f7f9fb;text-align:center"><div class="t" style="left:0;width:100%;top:8px;font-size:9px;color:#64748b;letter-spacing:.75px">FIDEL.</div><div class="t" style="left:0;width:100%;top:25.200px;font-size:12.500px;font-weight:bold;color:#1e293b">15</div><div class="t" style="left:0;width:100%;top:42.500px;font-size:8.500px;color:#64748b">/25</div></div><div class="abs" style="left:373.0px;top:319.300px;width:114.800px;height:57.700px;border-radius:9px;background:#f7f9fb;text-align:center"><div class="t" style="left:0;width:100%;top:8px;font-size:9px;color:#64748b;letter-spacing:.75px">VELOC.</div><div class="t" style="left:0;width:100%;top:25.200px;font-size:12.500px;font-weight:bold;color:#1e293b">10</div><div class="t" style="left:0;width:100%;top:42.500px;font-size:8.500px;color:#64748b">/10</div></div><div class="abs" style="left:491.9px;top:319.300px;width:114.800px;height:57.700px;border-radius:9px;background:#f7f9fb;text-align:center"><div class="t" style="left:0;width:100%;top:8px;font-size:9px;color:#64748b;letter-spacing:.75px">DISP.</div><div class="t" style="left:0;width:100%;top:25.200px;font-size:12.500px;font-weight:bold;color:#1e293b">10</div><div class="t" style="left:0;width:100%;top:42.500px;font-size:8.500px;color:#64748b">/10</div></div>
</div>

<div class="panel" style="left:12px;top:650px;width:611.33px;height:398px">
<svg class="abs" style="left:24px;top:27.400px" width="21.400" height="21.400" viewBox="0 0 20 20"><path d="M9 1.800A8.200 8.200 0 1 0 15.300 16L9 10.500z" fill="#1e293b"/><path d="M10.800.6a8 8 0 0 1 8 8h-8z" fill="#1e293b"/><path d="M11 10.300h8a8 8 0 0 1-2.300 5.200z" fill="#1e293b"/></svg><div class="ptitle" id="pt1" style="left:57px;top:28.500px">Engajamento dos Usuários com IA</div>
<svg class="abs" style="left:0;top:0" width="611.33" height="398"><defs><linearGradient id="dg0" x1="0" y1="0" x2="0" y2="1"><stop offset="0" stop-color="#34d399"/><stop offset="1" stop-color="#10b981"/></linearGradient><linearGradient id="dg1" x1="0" y1="0" x2="0" y2="1"><stop offset="0" stop-color="#fbbf24"/><stop offset="1" stop-color="#f59e0b"/></linearGradient><linearGradient id="dg2" x1="0" y1="0" x2="0" y2="1"><stop offset="0" stop-color="#60a5fa"/><stop offset="1" stop-color="#3b82f6"/></linearGradient><linearGradient id="dg3" x1="0" y1="0" x2="0" y2="1"><stop offset="0" stop-color="#f87171"/><stop offset="1" stop-color="#ef4444"/></linearGradient></defs><path d="M224.00 251.40L188.00 251.40A5 5 0 0 1 183.11 246.19A122.9 122.9 0 0 1 207.36 177.95A5 5 0 0 1 214.44 176.99L242.37 199.71A5 5 0 0 1 243.40 206.60A76.9 76.9 0 0 0 229.14 246.71A5 5 0 0 1 224.00 251.40z" fill="url(#dg0)" stroke="#fff" stroke-width="3" stroke-linejoin="round"/><text x="208.6" y="221.0" text-anchor="middle" font-family="Liberation Sans, sans-serif" font-weight="bold" font-size="12.600" fill="#fff">22%</text><path d="M242.37 199.71L214.44 176.99A5 5 0 0 1 213.94 169.87A122.9 122.9 0 0 1 309.08 128.54A5 5 0 0 1 313.95 133.77L311.49 169.69A5 5 0 0 1 306.46 174.50A76.9 76.9 0 0 0 249.32 199.32A5 5 0 0 1 242.37 199.71z" fill="url(#dg1)" stroke="#fff" stroke-width="3" stroke-linejoin="round"/><text x="264.7" y="160.9" text-anchor="middle" font-family="Liberation Sans, sans-serif" font-weight="bold" font-size="12.600" fill="#fff">30%</text><path d="M311.49 169.69L313.95 133.77A5 5 0 0 1 319.48 129.25A122.9 122.9 0 0 1 372.45 148.08A5 5 0 0 1 373.89 155.08L353.13 184.49A5 5 0 0 1 346.33 185.99A76.9 76.9 0 0 0 315.82 175.14A5 5 0 0 1 311.49 169.69z" fill="url(#dg2)" stroke="#fff" stroke-width="3" stroke-linejoin="round"/><text x="340.5" y="158.3" text-anchor="middle" font-family="Liberation Sans, sans-serif" font-weight="bold" font-size="12.600" fill="#fff">17%</text><path d="M353.13 184.49L373.89 155.08A5 5 0 0 1 380.97 154.09A122.9 122.9 0 0 1 428.69 246.19A5 5 0 0 1 423.80 251.40L387.80 251.40A5 5 0 0 1 382.66 246.71A76.9 76.9 0 0 0 354.00 191.40A5 5 0 0 1 353.13 184.49z" fill="url(#dg3)" stroke="#fff" stroke-width="3" stroke-linejoin="round"/><text x="397.6" y="208.1" text-anchor="middle" font-family="Liberation Sans, sans-serif" font-weight="bold" font-size="12.600" fill="#fff">30%</text><rect x="98" y="332.6" width="10" height="10" rx="2" fill="#21c08b"/><text x="114" y="341.2" font-family="Liberation Sans, sans-serif" font-size="12" fill="#526077" textLength="56" lengthAdjust="spacingAndGlyphs">Ativo Hoje</text><rect x="180" y="332.6" width="10" height="10" rx="2" fill="#f8ab1a"/><text x="196" y="341.2" font-family="Liberation Sans, sans-serif" font-size="12" fill="#526077" textLength="97" lengthAdjust="spacingAndGlyphs">Ativo esta Semana</text><rect x="303" y="332.6" width="10" height="10" rx="2" fill="#4d92f8"/><text x="319" y="341.2" font-family="Liberation Sans, sans-serif" font-size="12" fill="#526077" textLength="78" lengthAdjust="spacingAndGlyphs">Ativo este Mês</text><rect x="407" y="332.6" width="10" height="10" rx="2" fill="#f15b5b"/><text x="423" y="341.2" font-family="Liberation Sans, sans-serif" font-size="12" fill="#526077" textLength="92" lengthAdjust="spacingAndGlyphs">Inativo (&gt;30 dias)</text></svg>
</div>
<div class="panel" style="left:649.33px;top:650px;width:611.33px;height:398px">
<svg class="abs" style="left:24px;top:29px" width="19" height="17" viewBox="0 0 19 17" fill="none" stroke="#1e293b" stroke-linecap="round"><path d="M1.500 1v13.500h16.500" stroke-width="2.200" stroke-linejoin="round"/><path d="M5.600 11V8.500M8.700 11V4.500M11.800 11V7M14.900 11V3.500" stroke-width="2.200"/></svg><div class="ptitle" id="pt2" style="left:54.7px;top:28.500px">Uso de IA por Período</div>
<svg class="abs" style="left:0;top:0" width="611.33" height="398"><defs><linearGradient id="bg0" x1="0" y1="0" x2="0" y2="1"><stop offset="0" stop-color="#10b981"/><stop offset="1" stop-color="#6ee7b7"/></linearGradient><linearGradient id="bg1" x1="0" y1="0" x2="0" y2="1"><stop offset="0" stop-color="#f59e0b"/><stop offset="1" stop-color="#fbc56d"/></linearGradient><linearGradient id="bg2" x1="0" y1="0" x2="0" y2="1"><stop offset="0" stop-color="#3b82f6"/><stop offset="1" stop-color="#8db8fb"/></linearGradient><linearGradient id="bg3" x1="0" y1="0" x2="0" y2="1"><stop offset="0" stop-color="#ef4444"/><stop offset="1" stop-color="#f79090"/></linearGradient></defs><path d="M61.3 315.1H564.9" stroke="#e4e9f0" stroke-width="1.200"/><text x="52.7" y="317.8" text-anchor="end" font-family="Liberation Sans, sans-serif" font-size="11.500" fill="#64748b">0</text><path d="M61.3 271.1H564.9" stroke="#eceff4" stroke-width="1" stroke-dasharray="4 3"/><text x="52.7" y="274.3" text-anchor="end" font-family="Liberation Sans, sans-serif" font-size="11.500" fill="#64748b">5</text><path d="M61.3 227.6H564.9" stroke="#eceff4" stroke-width="1" stroke-dasharray="4 3"/><text x="52.7" y="230.8" text-anchor="end" font-family="Liberation Sans, sans-serif" font-size="11.500" fill="#64748b">10</text><path d="M61.3 184.1H564.9" stroke="#eceff4" stroke-width="1" stroke-dasharray="4 3"/><text x="52.7" y="187.3" text-anchor="end" font-family="Liberation Sans, sans-serif" font-size="11.500" fill="#64748b">15</text><path d="M61.3 140.6H564.9" stroke="#eceff4" stroke-width="1" stroke-dasharray="4 3"/><text x="52.7" y="143.8" text-anchor="end" font-family="Liberation Sans, sans-serif" font-size="11.500" fill="#64748b">20</text><path d="M61.3 97.1H564.9" stroke="#eceff4" stroke-width="1" stroke-dasharray="4 3"/><text x="52.7" y="100.3" text-anchor="end" font-family="Liberation Sans, sans-serif" font-size="11.500" fill="#64748b">25</text><rect x="94.9" y="273.3" width="58.600" height="39.1" rx="3.500" fill="url(#bg0)"/><text x="124.2" y="253.1" text-anchor="middle" font-family="Liberation Sans, sans-serif" font-weight="bold" font-size="11.500" fill="#1e293b">5</text><text x="124.2" y="264.1" text-anchor="middle" font-family="Liberation Sans, sans-serif" font-weight="bold" font-size="11.500" fill="#1e293b">(5)</text><text transform="translate(124.2 322.6) rotate(-15)" x="0" y="3.500" text-anchor="end" font-family="Liberation Sans, sans-serif" font-size="10.500" fill="#64748b" textLength="56" lengthAdjust="spacingAndGlyphs">Ativos Hoje</text><rect x="220.8" y="212.4" width="58.600" height="56.5" rx="3.500" fill="url(#bg1)"/><text x="250.1" y="192.2" text-anchor="middle" font-family="Liberation Sans, sans-serif" font-weight="bold" font-size="11.500" fill="#1e293b">7</text><text x="250.1" y="203.2" text-anchor="middle" font-family="Liberation Sans, sans-serif" font-weight="bold" font-size="11.500" fill="#1e293b">(12)</text><text transform="translate(250.1 322.6) rotate(-15)" x="0" y="3.500" text-anchor="end" font-family="Liberation Sans, sans-serif" font-size="10.500" fill="#64748b" textLength="72" lengthAdjust="spacingAndGlyphs">Ativos Semana</text><rect x="346.7" y="177.6" width="58.600" height="30.4" rx="3.500" fill="url(#bg2)"/><text x="376.0" y="157.4" text-anchor="middle" font-family="Liberation Sans, sans-serif" font-weight="bold" font-size="11.500" fill="#1e293b">4</text><text x="376.0" y="168.4" text-anchor="middle" font-family="Liberation Sans, sans-serif" font-weight="bold" font-size="11.500" fill="#1e293b">(16)</text><text transform="translate(376.0 322.6) rotate(-15)" x="0" y="3.500" text-anchor="end" font-family="Liberation Sans, sans-serif" font-size="10.500" fill="#64748b" textLength="53" lengthAdjust="spacingAndGlyphs">Ativos Mês</text><rect x="472.6" y="116.7" width="58.600" height="56.5" rx="3.500" fill="url(#bg3)"/><text x="501.9" y="96.5" text-anchor="middle" font-family="Liberation Sans, sans-serif" font-weight="bold" font-size="11.500" fill="#1e293b">7</text><text x="501.9" y="107.5" text-anchor="middle" font-family="Liberation Sans, sans-serif" font-weight="bold" font-size="11.500" fill="#1e293b">(23)</text><text transform="translate(501.9 322.6) rotate(-15)" x="0" y="3.500" text-anchor="end" font-family="Liberation Sans, sans-serif" font-size="10.500" fill="#64748b" textLength="39" lengthAdjust="spacingAndGlyphs">Inativos</text></svg>
</div>

<div class="panel" style="left:1286.67px;top:650px;width:611.33px;height:520px">
<svg class="abs" style="left:23px;top:28px" width="22" height="20" viewBox="0 0 22 20"><path d="M5.500 1h11v6.500c0 3-2.400 5.400-5.500 5.400S5.500 10.500 5.500 7.500z" fill="#1e293b"/><path d="M5.500 3H2v2.500c0 2.300 1.700 4.200 4 4.500M16.500 3H20v2.500c0 2.300-1.700 4.200-4 4.500" fill="none" stroke="#1e293b" stroke-width="1.800"/><rect x="9.800" y="12" width="2.400" height="4"/><path d="M6.500 18.800c0-1.600 1.300-2.900 2.900-2.900h3.200c1.600 0 2.900 1.300 2.900 2.900z" fill="#1e293b"/></svg><div class="ptitle" id="pt3" style="left:57.3px;top:28.500px;letter-spacing:.47px">Top 10 Usuários - Uso de IA</div>
<svg class="abs" style="left:54.3px;top:97.6px" width="17" height="18" viewBox="0 0 17 18"><path d="M2 .5h4.500l2 3.500 2-3.500H15l-4 7H6z" fill="#3b82f6"/><path d="M5.500.5h6l-3 5z" fill="#2563eb"/><circle cx="8.500" cy="11.500" r="6" fill="#f5a623"/><circle cx="8.500" cy="11.500" r="4.300" fill="none" stroke="rgba(0,0,0,.12)" stroke-width=".8"/><text x="8.500" y="14" text-anchor="middle" font-family="Liberation Sans, sans-serif" font-weight="bold" font-size="7" fill="#a85d00">1</text></svg><div class="abs" style="left:86.3px;top:90.0px;width:8px;height:8px;border-radius:4px;background:#198754"></div><div class="t nm" id="nm0" style="left:98.3px;top:87.2px;font-size:13.600px;font-weight:bold;color:#1e293b;letter-spacing:.47px">Reginaldo Back</div><div class="t sb" id="sb0" style="left:86.3px;top:112.3px;font-size:11.300px;color:#64748b;letter-spacing:.67px">Ativo hoje</div><div class="abs" style="left:514.1px;top:86.0px;width:49px;height:16px;border-radius:6.500px;background:#16a34a;color:#fff;font-size:10.500px;font-weight:bold;text-align:center;line-height:15.500px">100 pts</div><svg class="abs" style="left:54.3px;top:157.1px" width="17" height="18" viewBox="0 0 17 18"><path d="M2 .5h4.500l2 3.500 2-3.500H15l-4 7H6z" fill="#3b82f6"/><path d="M5.500.5h6l-3 5z" fill="#2563eb"/><circle cx="8.500" cy="11.500" r="6" fill="#dccdf0"/><circle cx="8.500" cy="11.500" r="4.300" fill="none" stroke="rgba(0,0,0,.12)" stroke-width=".8"/><text x="8.500" y="14" text-anchor="middle" font-family="Liberation Sans, sans-serif" font-weight="bold" font-size="7" fill="#6b5a8a">2</text></svg><div class="abs" style="left:86.3px;top:149.5px;width:8px;height:8px;border-radius:4px;background:#6b7280"></div><div class="t nm" id="nm1" style="left:98.3px;top:146.7px;font-size:13.600px;font-weight:bold;color:#1e293b;letter-spacing:.47px">João back</div><div class="t sb" id="sb1" style="left:86.3px;top:171.8px;font-size:11.300px;color:#64748b;letter-spacing:.67px">Ativo hoje</div><div class="abs" style="left:514.1px;top:145.5px;width:49px;height:16px;border-radius:6.500px;background:#16a34a;color:#fff;font-size:10.500px;font-weight:bold;text-align:center;line-height:15.500px">100 pts</div><svg class="abs" style="left:54.3px;top:216.6px" width="17" height="18" viewBox="0 0 17 18"><path d="M2 .5h4.500l2 3.500 2-3.500H15l-4 7H6z" fill="#3b82f6"/><path d="M5.500.5h6l-3 5z" fill="#2563eb"/><circle cx="8.500" cy="11.500" r="6" fill="#c9794b"/><circle cx="8.500" cy="11.500" r="4.300" fill="none" stroke="rgba(0,0,0,.12)" stroke-width=".8"/><text x="8.500" y="14" text-anchor="middle" font-family="Liberation Sans, sans-serif" font-weight="bold" font-size="7" fill="#6b3410">3</text></svg><div class="abs" style="left:86.3px;top:209.0px;width:8px;height:8px;border-radius:4px;background:#6b7280"></div><div class="t nm" id="nm2" style="left:98.3px;top:206.2px;font-size:13.600px;font-weight:bold;color:#1e293b;letter-spacing:.47px">David Cardoso</div><div class="t sb" id="sb2" style="left:86.3px;top:231.3px;font-size:11.300px;color:#64748b;letter-spacing:.67px">Ativo hoje</div><div class="abs" style="left:518.9px;top:205.0px;width:44.2px;height:16px;border-radius:6.500px;background:#16a34a;color:#fff;font-size:10.500px;font-weight:bold;text-align:center;line-height:15.500px">95 pts</div><div class="abs" style="left:52.3px;top:276.7px;width:22px;height:18px;border-radius:5px;background:#6b7280;color:#fff;font-size:10.500px;font-weight:bold;text-align:center;line-height:18px">4</div><div class="abs" style="left:86.3px;top:268.5px;width:8px;height:8px;border-radius:4px;background:#6b7280"></div><div class="t nm" id="nm3" style="left:98.3px;top:265.7px;font-size:13.600px;font-weight:bold;color:#1e293b;letter-spacing:.47px">Fernando M Lisboa JR</div><div class="t sb" id="sb3" style="left:86.3px;top:290.8px;font-size:11.300px;color:#64748b;letter-spacing:.67px">Ativo hoje</div><div class="abs" style="left:518.9px;top:264.5px;width:44.2px;height:16px;border-radius:6.500px;background:#16a34a;color:#fff;font-size:10.500px;font-weight:bold;text-align:center;line-height:15.500px">90 pts</div><div class="abs" style="left:52.3px;top:336.2px;width:22px;height:18px;border-radius:5px;background:#6b7280;color:#fff;font-size:10.500px;font-weight:bold;text-align:center;line-height:18px">5</div><div class="abs" style="left:86.3px;top:328.0px;width:8px;height:8px;border-radius:4px;background:#6b7280"></div><div class="t nm" id="nm4" style="left:98.3px;top:325.2px;font-size:13.600px;font-weight:bold;color:#1e293b;letter-spacing:.47px">Carlos Viera</div><div class="t sb" id="sb4" style="left:86.3px;top:350.3px;font-size:11.300px;color:#64748b;letter-spacing:.67px">Ativo ontem</div><div class="abs" style="left:518.9px;top:324.0px;width:44.2px;height:16px;border-radius:6.500px;background:#16a34a;color:#fff;font-size:10.500px;font-weight:bold;text-align:center;line-height:15.500px">90 pts</div><div class="abs" style="left:52.3px;top:395.7px;width:22px;height:18px;border-radius:5px;background:#6b7280;color:#fff;font-size:10.500px;font-weight:bold;text-align:center;line-height:18px">6</div><div class="abs" style="left:86.3px;top:387.5px;width:8px;height:8px;border-radius:4px;background:#6b7280"></div><div class="t nm" id="nm5" style="left:98.3px;top:384.7px;font-size:13.600px;font-weight:bold;color:#1e293b;letter-spacing:.47px">Nicole Borba</div><div class="t sb" id="sb5" style="left:86.3px;top:409.8px;font-size:11.300px;color:#64748b;letter-spacing:.67px">Ativo ontem</div><div class="abs" style="left:518.9px;top:383.5px;width:44.2px;height:16px;border-radius:6.500px;background:#16a34a;color:#fff;font-size:10.500px;font-weight:bold;text-align:center;line-height:15.500px">90 pts</div>
</div>

</body></html>
